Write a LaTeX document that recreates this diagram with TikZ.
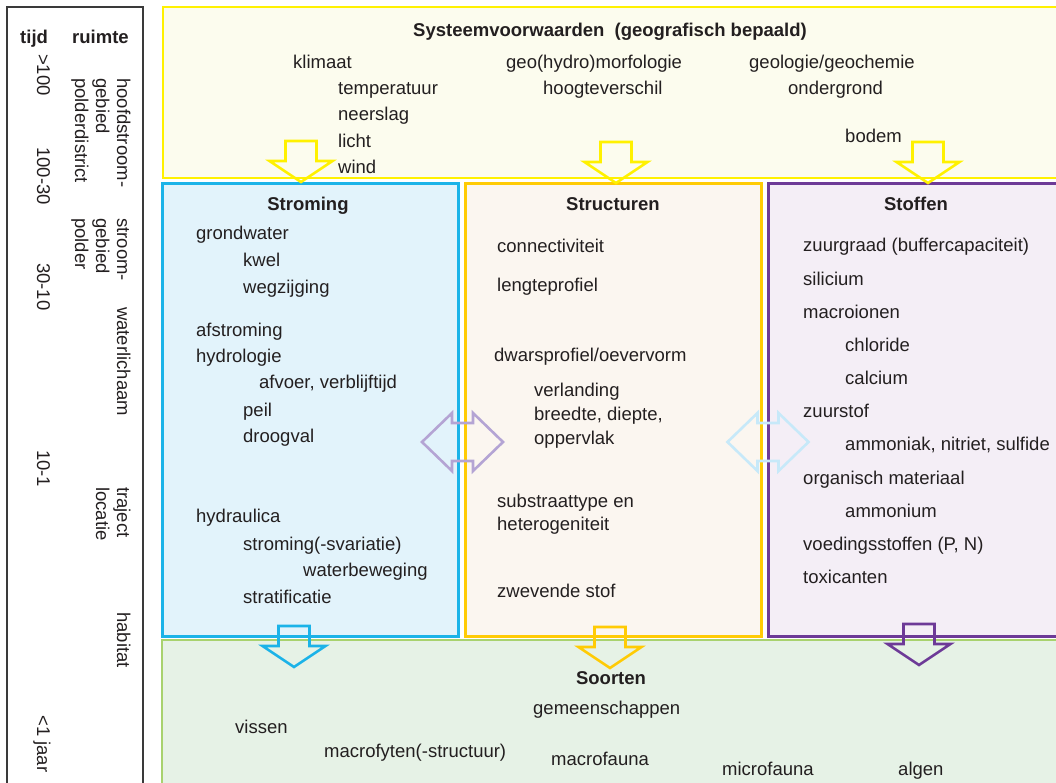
\documentclass[tikz,border=0pt]{standalone}
\usepackage{fontspec}
\setmainfont{Liberation Sans}
\definecolor{ink}{HTML}{231F20}
\definecolor{frameline}{HTML}{3A3A3A}
\definecolor{sunline}{HTML}{FFF100}
\definecolor{sunfill}{HTML}{FCFCEE}
\definecolor{flowline}{HTML}{1BB3E8}
\definecolor{flowfill}{HTML}{E2F3FB}
\definecolor{formline}{HTML}{FFCB05}
\definecolor{formfill}{HTML}{FBF6F0}
\definecolor{chemline}{HTML}{6D3A97}
\definecolor{chemfill}{HTML}{F4EEF6}
\definecolor{lifeline}{HTML}{A8D26E}
\definecolor{lifefill}{HTML}{E6F2E6}
\definecolor{lavender}{HTML}{B4A4D4}
\definecolor{palecyan}{HTML}{C7E9F9}
\tikzset{
  pics/dnblock/.style={code={
    \draw[pic actions] (-15.5,0) -- (15.5,0) -- (15.5,20) -- (31.5,20) -- (0,41)
      -- (-31.5,20) -- (-15.5,20) -- cycle;
  }},
  pics/lrblock/.style={code={
    \draw[pic actions] (-40.5,0) -- (-10.5,-29) -- (-10.5,-19) -- (10.5,-19) -- (10.5,-29)
      -- (40.5,0) -- (10.5,29) -- (10.5,19) -- (-10.5,19) -- (-10.5,29) -- cycle;
  }},
}
\begin{document}
\begin{tikzpicture}[x=1pt,y=-1pt,
  txt/.style={anchor=west,inner sep=0pt,text height=13pt,text depth=4pt,text=ink,
    yshift=-2.5pt,font=\fontsize{18.5}{22}\selectfont},
  ttl/.style={txt,anchor=center,font=\bfseries\fontsize{18.5}{22}\selectfont},
  vtxt/.style={anchor=base west,rotate=-90,inner sep=0pt,text=ink,
    font=\fontsize{18.5}{22}\selectfont},
  vttl/.style={anchor=base west,inner sep=0pt,text=ink,
    font=\bfseries\fontsize{18.5}{22}\selectfont},
  panel/.style={line width=#1},
  arrowline/.style={line width=2.6pt,miter limit=10}]
\clip (0,0) rectangle (1056,783);

% scale column on the left
\draw[frameline,line width=1.5pt] (7,800) -- (7,7) -- (143,7) -- (143,800);
\node[vttl] (tijd) at (20,44) {tijd};
\node[vttl] (ruimte) at (72,44) {ruimte};
\node[vtxt] (t1) at (37,54) {>100};
\node[vtxt] (t2) at (37,147) {100-30};
\node[vtxt] (t3) at (37,263) {30-10};
\node[vtxt] (t4) at (37,450) {10-1};
\node[vtxt] (t5) at (37,715) {<1 jaar};
\node[vtxt] (r1a) at (117,78) {hoofdstroom-};
\node[vtxt] (r1b) at (96,78) {gebied};
\node[vtxt] (r1c) at (75,78) {polderdistrict};
\node[vtxt] (r2a) at (117,218) {stroom-};
\node[vtxt] (r2b) at (96,218) {gebied};
\node[vtxt] (r2c) at (75,218) {polder};
\node[vtxt] (r3) at (117,307) {waterlichaam};
\node[vtxt] (r4a) at (117,487) {traject};
\node[vtxt] (r4b) at (96,487) {locatie};
\node[vtxt] (r5) at (117,612) {habitat};

% panels
\draw[panel=2pt,draw=sunline,fill=sunfill] (163,7) rectangle (1080,178);
\draw[panel=2pt,draw=lifeline,fill=lifefill] (162,640) rectangle (1080,800);
\draw[panel=3pt,draw=flowline,fill=flowfill] (162,184) rectangle (458,636);
\draw[panel=3pt,draw=formline,fill=formfill] (465,184) rectangle (761,636);
\draw[panel=3pt,draw=chemline,fill=chemfill] (768,184) rectangle (1080,636);

% system conditions
\node[ttl] (sys) at (610,30) {Systeemvoorwaarden\hspace{0.55em}(geografisch bepaald)};
\node[txt] (klimaat) at (293,62) {klimaat};
\node[txt] (temp) at (338,88) {temperatuur};
\node[txt] (neerslag) at (338,114) {neerslag};
\node[txt] (licht) at (338,141) {licht};
\node[txt] (wind) at (338,167) {wind};
\node[txt] (geomorf) at (506,62) {geo(hydro)morfologie};
\node[txt] (hoogte) at (543,88) {hoogteverschil};
\node[txt] (geolog) at (749,62) {geologie/geochemie};
\node[txt] (ondergrond) at (788,88) {ondergrond};
\node[txt] (bodem) at (845,136) {bodem};

% flow
\node[ttl] (stroming) at (308,204) {Stroming};
\node[txt] at (196,233) {grondwater};
\node[txt] at (243,260) {kwel};
\node[txt] at (243,287) {wegzijging};
\node[txt] at (196,329) {afstroming};
\node[txt] at (196,355) {hydrologie};
\node[txt] at (259,381) {afvoer, verblijftijd};
\node[txt] at (243,409) {peil};
\node[txt] at (243,435) {droogval};
\node[txt] at (196,515) {hydraulica};
\node[txt] at (243,543) {stroming(-svariatie)};
\node[txt] at (303,569) {waterbeweging};
\node[txt] at (243,596) {stratificatie};

% structures
\node[ttl] (structuren) at (613,204) {Structuren};
\node[txt] at (497,246) {connectiviteit};
\node[txt] at (497,284) {lengteprofiel};
\node[txt] at (494,354) {dwarsprofiel/oevervorm};
\node[txt] at (534,389) {verlanding};
\node[txt] at (534,413) {breedte, diepte,};
\node[txt] at (534,437) {oppervlak};
\node[txt] at (497,500) {substraattype en};
\node[txt] at (497,523) {heterogeniteit};
\node[txt] at (497,590) {zwevende stof};

% substances
\node[ttl] (stoffen) at (916,204) {Stoffen};
\node[txt] at (803,245) {zuurgraad (buffercapaciteit)};
\node[txt] at (803,278) {silicium};
\node[txt] at (803,311) {macroionen};
\node[txt] at (845,344) {chloride};
\node[txt] at (845,377) {calcium};
\node[txt] at (803,410) {zuurstof};
\node[txt] at (845,443) {ammoniak, nitriet, sulfide};
\node[txt] at (803,477) {organisch materiaal};
\node[txt] at (845,510) {ammonium};
\node[txt] at (803,543) {voedingsstoffen (P, N)};
\node[txt] at (803,576) {toxicanten};

% species
\node[ttl] (soorten) at (611,677) {Soorten};
\node[txt] at (533,707) {gemeenschappen};
\node[txt] at (235,726) {vissen};
\node[txt] at (324,750) {macrofyten(-structuur)};
\node[txt] at (551,758) {macrofauna};
\node[txt] at (722,768) {microfauna};
\node[txt] at (898,768) {algen};

% block arrows
\pic[draw=sunline,arrowline] at (301,141) {dnblock};
\pic[draw=sunline,arrowline] at (616,142) {dnblock};
\pic[draw=sunline,arrowline] at (928,142) {dnblock};
\pic[draw=flowline,arrowline] at (294,626) {dnblock};
\pic[draw=formline,arrowline] at (610,627) {dnblock};
\pic[draw=chemline,arrowline] at (919,624) {dnblock};
\pic[draw=lavender,arrowline] at (462.5,442) {lrblock};
\pic[draw=palecyan,arrowline] at (768,442) {lrblock};
\end{tikzpicture}
\end{document}
